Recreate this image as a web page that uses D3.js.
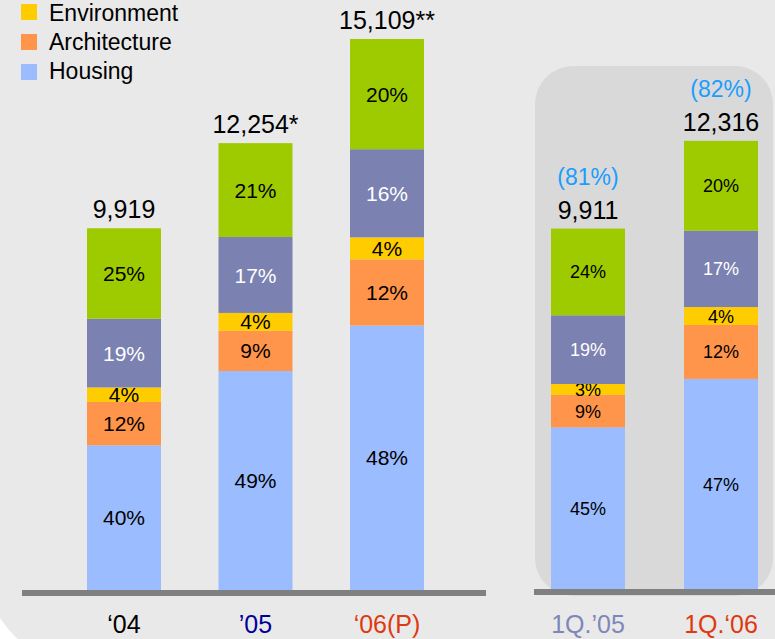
<!DOCTYPE html>
<html lang="en">
<head>
<meta charset="UTF-8">
<title>Sales mix by business</title>
<script src="https://d3js.org/d3.v7.min.js"></script>
<style>
  body { margin: 0; background: #fff; }
  svg { display: block; font-family: "Liberation Sans", Arial, sans-serif; }
</style>
</head>
<body>
<div id="chart"></div>
<script>
// yearly bars (left) and first-quarter bars (right)
const years = ["‘04", "’05", "‘06(P)"];
const quarters = ["1Q.’05", "1Q.‘06"];
const yearTotals = [9919, 12254, 15109];
const quarterTotals = [9911, 12316];
const yearTotalLabels = ["9,919", "12,254*", "15,109**"];
const quarterTotalLabels = ["9,911", "12,316"];
const quarterRatios = ["(81%)", "(82%)"];

// shares (%) per segment, bottom to top: years then quarters
const housing      = [40, 49, 48, 45, 47];
const architecture = [12, 9, 12, 9, 12];
const environment  = [4, 4, 4, 3, 4];
const segPurple    = [19, 17, 16, 19, 17];
const segGreen     = [25, 21, 20, 24, 20];

const legendNames = ["Environment", "Architecture", "Housing"];

const width = 775, height = 639;
const baseline = 590;

const keys = ["housing", "architecture", "environment", "purple", "green"];
const colors = {
  housing: "#9bbcff", architecture: "#ff944b", environment: "#ffcc00",
  purple: "#7b81b0", green: "#9ecb00"
};
const labelColor = k => k === "purple" ? "#fff" : "#000";
const xColors = ["#000000", "#000099", "#dd3a10", "#7f87ba", "#dd3a10"];

const allCats = years.concat(quarters);
const allTotals = yearTotals.concat(quarterTotals);
const rows = allCats.map((c, i) => ({
  cat: c, total: allTotals[i], right: i >= years.length,
  housing: housing[i], architecture: architecture[i], environment: environment[i],
  purple: segPurple[i], green: segGreen[i]
}));

const svg = d3.select("#chart").append("svg")
  .attr("width", width).attr("height", height);

// slide background
svg.append("rect").attr("width", width).attr("height", height).attr("fill", "#fff");
svg.append("rect")
  .attr("x", -15).attr("y", -120).attr("width", width + 120).attr("height", height + 146)
  .attr("rx", 100).attr("fill", "#e9e9e9");

// quarter panel
svg.append("rect")
  .attr("x", 535).attr("y", 66).attr("width", 238).attr("height", 530)
  .attr("rx", 38).attr("fill", "#d9d9d9");

const xLeft = d3.scalePoint().domain(years).range([124, 387]);
const xRight = d3.scalePoint().domain(quarters).range([588, 721]);
const xPos = d => d.right ? xRight(d.cat) : xLeft(d.cat);
const barW = 74;

const y = d3.scaleLinear().domain([0, d3.max(allTotals)]).range([baseline, 39]);

const stack = d3.stack().keys(keys);
const series = stack(rows);

const g = svg.append("g");
series.forEach(s => {
  const key = s.key;
  s.forEach(seg => {
    const d = seg.data;
    const y0 = y(d.total * seg[0] / 100);
    const y1 = y(d.total * seg[1] / 100);
    g.append("rect")
      .attr("x", xPos(d) - barW / 2)
      .attr("y", y1)
      .attr("width", barW)
      .attr("height", y0 - y1)
      .attr("fill", colors[key]);
    g.append("text")
      .attr("x", xPos(d))
      .attr("y", (y0 + y1) / 2)
      .attr("dy", "0.36em")
      .attr("text-anchor", "middle")
      .attr("font-size", d.right ? 18 : 21)
      .attr("fill", labelColor(key))
      .text(d[key] + "%");
  });
});

// baselines
svg.append("rect").attr("x", 22).attr("y", baseline).attr("width", 464).attr("height", 6).attr("fill", "#808080");
svg.append("rect").attr("x", 534).attr("y", baseline - 1).attr("width", 245).attr("height", 6).attr("fill", "#808080");

// totals
const totalLabels = yearTotalLabels.concat(quarterTotalLabels);
rows.forEach((d, i) => {
  svg.append("text")
    .attr("x", xPos(d)).attr("y", y(d.total) - 10)
    .attr("text-anchor", "middle").attr("font-size", 25).attr("fill", "#000")
    .text(totalLabels[i]);
  if (d.right) {
    svg.append("text")
      .attr("x", xPos(d)).attr("y", y(d.total) - 44)
      .attr("text-anchor", "middle").attr("font-size", 23).attr("fill", "#1a9dff")
      .text(quarterRatios[i - years.length]);
  }
  svg.append("text")
    .attr("x", xPos(d)).attr("y", 633)
    .attr("text-anchor", "middle").attr("font-size", 25).attr("fill", xColors[i])
    .text(d.cat);
});

// legend
const legendColors = [colors.environment, colors.architecture, colors.housing];
const leg = svg.append("g");
legendNames.forEach((n, i) => {
  leg.append("rect").attr("x", 21).attr("y", 4 + i * 30).attr("width", 16).attr("height", 16)
    .attr("fill", legendColors[i]);
  leg.append("text").attr("x", 49).attr("y", 21 + i * 29).attr("font-size", 23).attr("fill", "#000")
    .text(n);
});
</script>
</body>
</html>
